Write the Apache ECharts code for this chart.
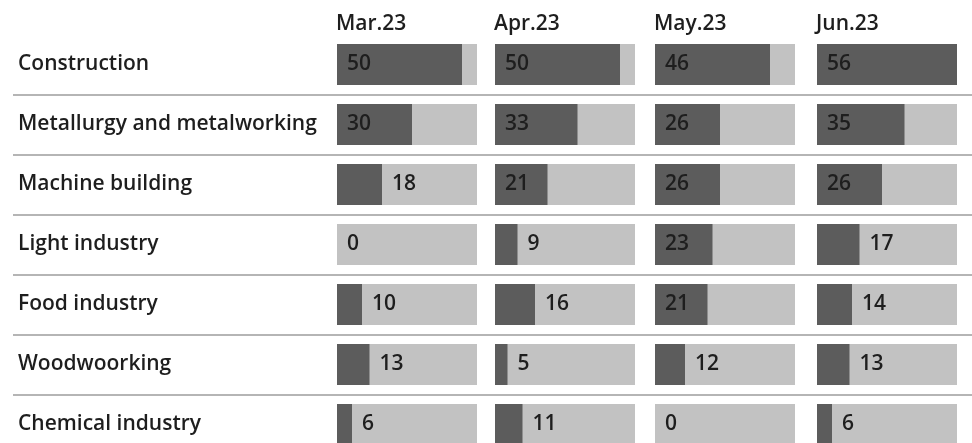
<!DOCTYPE html>
<html>
<head>
<meta charset="utf-8">
<script src="https://cdn.jsdelivr.net/npm/echarts@6/dist/echarts.min.js"></script>
<style>html,body{margin:0;padding:0;background:#fff;}#c{width:972px;height:443px;}</style>
</head>
<body>
<div id="c"></div>
<script>
const categories = ['Construction','Metallurgy and metalworking','Machine building','Light industry','Food industry','Woodwoorking','Chemical industry'];
const months = ['Mar.23','Apr.23','May.23','Jun.23'];
const mar = [50,30,18,0,10,13,6];
const apr = [50,33,21,9,16,5,11];
const may = [46,26,26,23,21,12,0];
const jun = [56,35,26,17,14,13,6];
const seriesValues = [mar, apr, may, jun];
const scaleMax = 56;
const insideThreshold = 20;

const FONT = 'Open Sans';
const FS = 21;
const FW = 600;
const TXT = '#1e1e1e';
const lefts = [337, 495, 655, 817];
const barW = 140;
const gridTop = 34.5;
const gridH = 420;

const grids = [], xAxes = [], yAxes = [], series = [], titles = [];
lefts.forEach((l, i) => {
  grids.push({left: l, width: barW, top: gridTop, height: gridH, containLabel: false, outerBoundsMode: 'none'});
  xAxes.push({type: 'value', gridIndex: i, min: 0, max: scaleMax, show: false});
  yAxes.push({
    type: 'category', gridIndex: i, data: categories, inverse: true,
    axisLine: {show: false}, axisTick: {show: false}, splitLine: {show: false},
    axisLabel: i === 0 ? {show: true, align: 'left', margin: l - 18, color: TXT, fontFamily: FONT, fontSize: FS, fontWeight: FW} : {show: false}
  });
  titles.push({text: months[i], left: l - 1, top: 14, padding: 0, textStyle: {fontFamily: FONT, fontSize: FS, fontWeight: FW, color: TXT}});
  series.push({
    type: 'bar', xAxisIndex: i, yAxisIndex: i, barWidth: 41,
    showBackground: true, backgroundStyle: {color: '#c2c2c2'},
    itemStyle: {color: '#5c5c5c'},
    data: seriesValues[i].map(v => ({
      value: v,
      label: {show: true, position: v >= insideThreshold ? 'insideLeft' : 'right', distance: 10,
        color: TXT, fontFamily: FONT, fontSize: FS, fontWeight: FW}
    })),
    silent: true, animation: false
  });
});
// full-width separator grid
grids.push({left: 13, right: 0, top: gridTop, height: gridH, outerBoundsMode: 'none'});
xAxes.push({type: 'value', gridIndex: 4, show: false});
yAxes.push({type: 'category', gridIndex: 4, data: categories, inverse: true,
  axisLine: {show: false}, axisTick: {show: false}, axisLabel: {show: false},
  splitLine: {show: true, interval: (idx) => idx > 0, lineStyle: {color: '#b5b5b5', width: 2}}});

const chart = echarts.init(document.getElementById('c'), null, {renderer: 'canvas'});
chart.setOption({animation: false, title: titles, grid: grids, xAxis: xAxes, yAxis: yAxes, series: series});
</script>
</body>
</html>
